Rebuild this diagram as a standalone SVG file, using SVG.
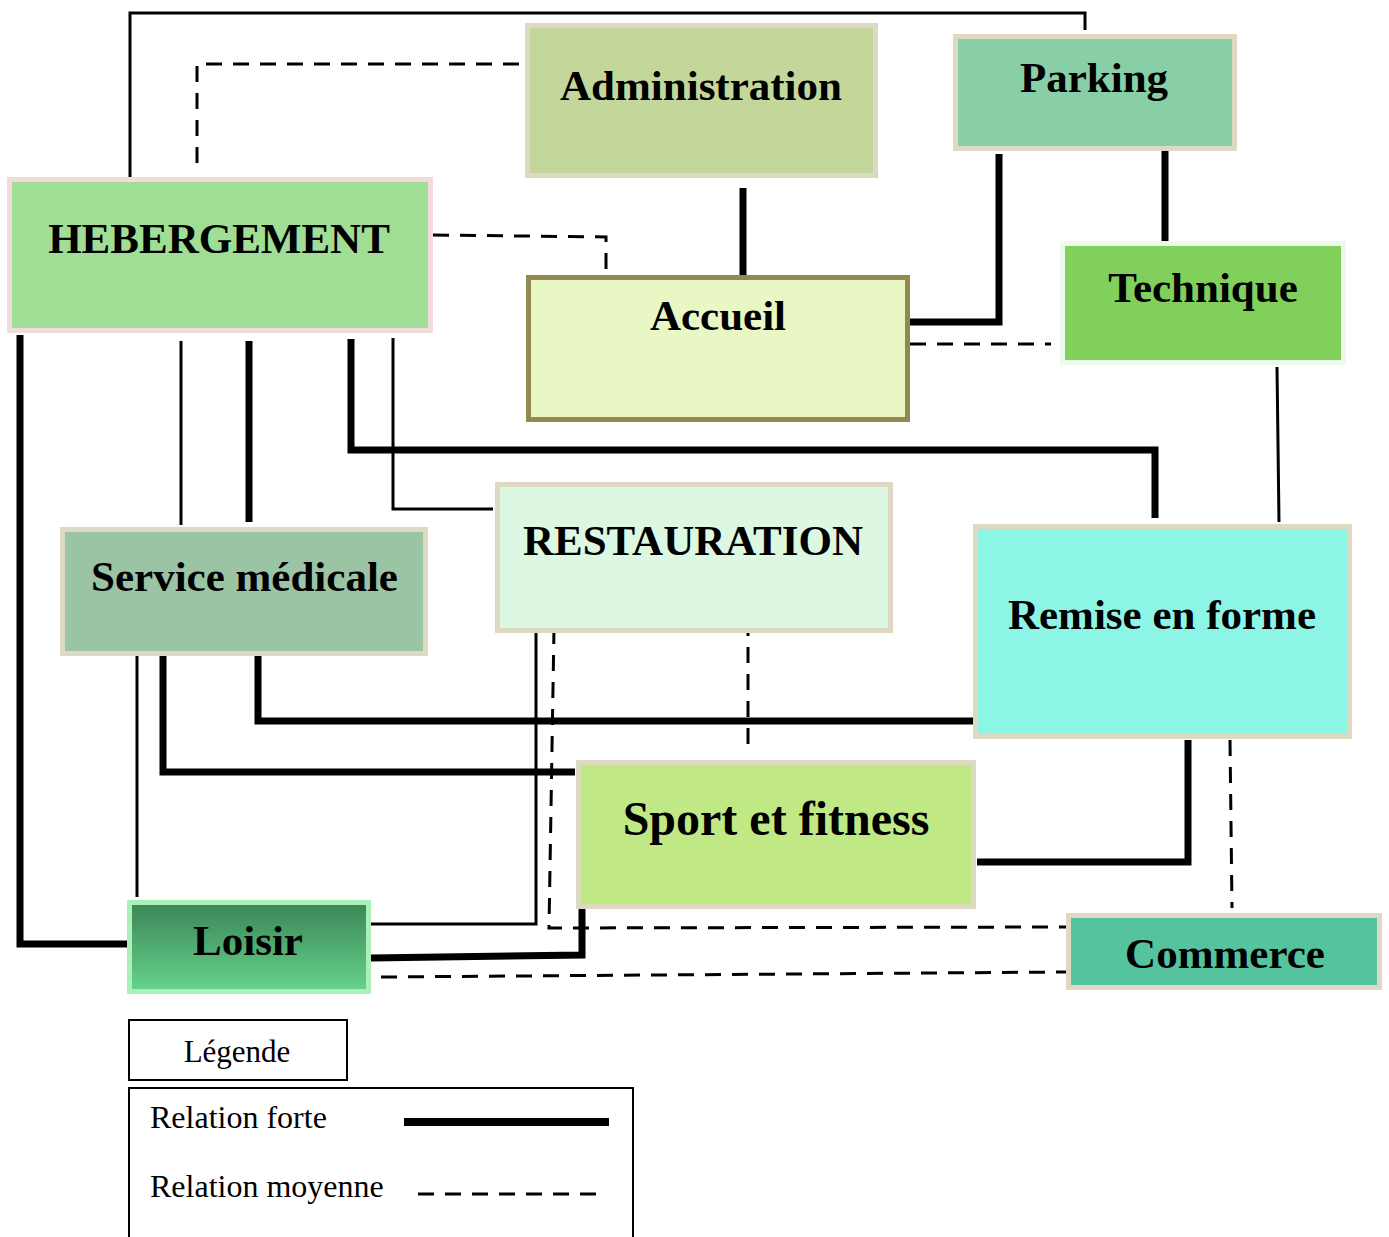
<svg xmlns="http://www.w3.org/2000/svg" width="1389" height="1237" viewBox="0 0 1389 1237">
<defs>
<linearGradient id="gLoisir" x1="0" y1="0" x2="0" y2="1">
<stop offset="0" stop-color="#3b8556"/>
<stop offset="1" stop-color="#66d48c"/>
</linearGradient>
</defs>
<style>
.node rect{stroke-width:5}
.lbl{font-family:"Liberation Serif","Times New Roman",serif;font-weight:bold;font-size:43px;fill:#000;text-anchor:middle}
.strong{fill:none;stroke:#000;stroke-width:7;stroke-linejoin:miter}
.thin{fill:none;stroke:#000;stroke-width:3}
.dash{fill:none;stroke:#000;stroke-width:3;stroke-dasharray:16 11}
.leg{font-family:"Liberation Serif","Times New Roman",serif;font-size:32px;fill:#000}
</style>
<rect width="1389" height="1237" fill="#fff"/>

<g id="connectors">
<path class="thin" d="M130,177 V13 H1085 V30"/>
<path class="dash" d="M197,163 V64 H522"/>
<path class="dash" d="M433,235 L606,237 V275"/>
<path class="strong" d="M743,188 V277"/>
<path class="strong" d="M999,154 V322 H910"/>
<path class="strong" d="M1165,151 V243"/>
<path class="dash" d="M910,344 H1051"/>
<path class="thin" d="M1277,367 L1279,522"/>
<path class="strong" d="M351,339 V450 H1155 V518"/>
<path class="thin" d="M393,338 V509 H493"/>
<path class="thin" d="M181,341 V525"/>
<path class="strong" d="M249,341 V522"/>
<path class="strong" d="M20,335 V944 H127"/>
<path class="thin" d="M137,656 V897"/>
<path class="strong" d="M163,656 V772 H575"/>
<path class="strong" d="M258,656 V721 H977"/>
<path class="thin" d="M371,924 H536 V633"/>
<path class="dash" d="M554,628 L549,928 L1066,927"/>
<path class="dash" d="M748,620 V748"/>
<path class="strong" d="M371,958 L582,955 V902"/>
<path class="dash" d="M381,977 L1068,972"/>
<path class="strong" d="M1188,740 V862 H977"/>
<path class="dash" d="M1230,740 L1232,908"/>
</g>

<g id="hebergement" class="node">
<rect x="9.5" y="179.5" width="421" height="151" fill="#a0de96" stroke="#f2dcdb"/>
<text class="lbl" x="219" y="253">HEBERGEMENT</text>
</g>
<g id="administration" class="node">
<rect x="527.5" y="25.5" width="348" height="150" fill="#c4d79b" stroke="#ddd9c3"/>
<text class="lbl" x="701" y="100">Administration</text>
</g>
<g id="parking" class="node">
<rect x="955.5" y="36.5" width="279" height="112" fill="#88cfa8" stroke="#ddd9c3"/>
<text class="lbl" x="1094" y="92">Parking</text>
</g>
<g id="accueil" class="node">
<rect x="528.5" y="277.5" width="379" height="142" fill="#e9f7c5" stroke="#938953"/>
<text class="lbl" x="718" y="330">Accueil</text>
</g>
<g id="technique" class="node">
<rect x="1062.5" y="243.5" width="281" height="119" fill="#80d05b" stroke="#ebfaeb"/>
<text class="lbl" x="1203" y="302">Technique</text>
</g>
<g id="service-medicale" class="node">
<rect x="62.5" y="529.5" width="363" height="124" fill="#9bc4a5" stroke="#ddd9c3"/>
<text class="lbl" x="244.5" y="591">Service médicale</text>
</g>
<g id="restauration" class="node">
<rect x="497.5" y="484.5" width="393" height="146" fill="#dcf8e3" stroke="#ddd9c3"/>
<text class="lbl" x="693" y="555">RESTAURATION</text>
</g>
<g id="remise-en-forme" class="node">
<rect x="975.5" y="526.5" width="374" height="210" fill="#8df5e6" stroke="#ddd9c3"/>
<text class="lbl" x="1162" y="629">Remise en forme</text>
</g>
<g id="sport-fitness" class="node">
<rect x="578.5" y="762.5" width="395" height="144" fill="#c0e985" stroke="#ddd9c3"/>
<text class="lbl" x="776" y="835" style="font-size:48px">Sport et fitness</text>
</g>
<g id="loisir" class="node">
<rect x="129.5" y="902.5" width="239" height="89" fill="url(#gLoisir)" stroke="#abf0b8"/>
<text class="lbl" x="248" y="955">Loisir</text>
</g>
<g id="commerce" class="node">
<rect x="1068.5" y="915.5" width="311" height="72" fill="#55c39e" stroke="#ddd9c3"/>
<text class="lbl" x="1225" y="968">Commerce</text>
</g>

<g id="legende">
<rect x="129" y="1020" width="218" height="60" fill="none" stroke="#000" stroke-width="2"/>
<text class="leg" x="237" y="1062" text-anchor="middle" style="font-size:31px">Légende</text>
<path d="M129,1240 V1088 H633 V1240" fill="none" stroke="#000" stroke-width="2"/>
<text class="leg" x="150" y="1128">Relation forte</text>
<line x1="404" y1="1122" x2="609" y2="1122" stroke="#000" stroke-width="8"/>
<text class="leg" x="150" y="1197">Relation moyenne</text>
<line x1="418" y1="1194" x2="604" y2="1194" class="dash"/>
</g>
</svg>
